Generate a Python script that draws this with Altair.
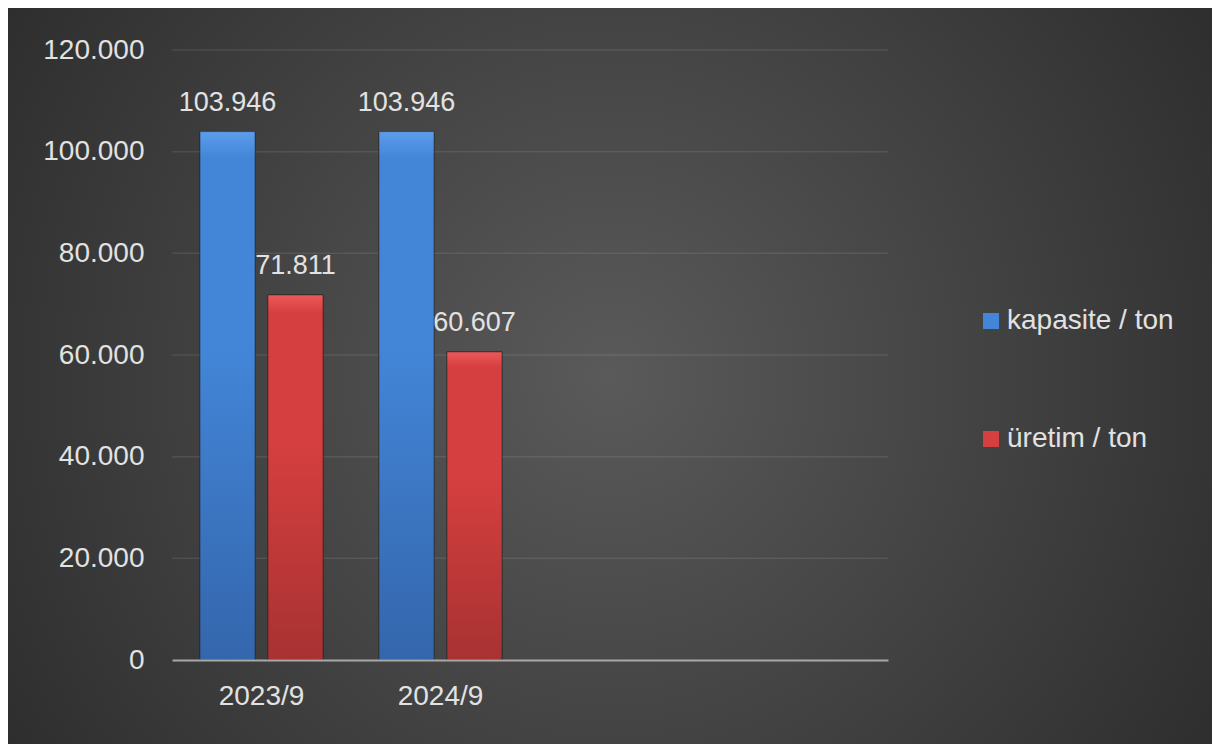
import altair as alt
import pandas as pd

categories = ["2023/9", "2024/9", " ", "  "]
series = ["kapasite / ton", "üretim / ton"]
kapasite = [103946, 103946]
uretim = [71811, 60607]
colors = ["#4386D8", "#D63F3F"]
y_ticks = [0, 20000, 40000, 60000, 80000, 100000, 120000]

rows = []
for i, cat in enumerate(categories[:2]):
    rows.append({"cat": cat, "series": series[0], "value": kapasite[i]})
    rows.append({"cat": cat, "series": series[1], "value": uretim[i]})
df = pd.DataFrame(rows)
ticks_df = pd.DataFrame({"value": y_ticks[1:]})

W, H = 716, 610
PL, PT, PR, PB = 164, 42, 324, 84
FONT = "Liberation Sans"
TXT = "#E2E2E2"

x_enc = alt.X("cat:N", scale=alt.Scale(domain=categories, paddingInner=0.313, paddingOuter=0.1565),
              sort=categories,
              axis=alt.Axis(title=None, labelAngle=0, labelFontSize=28, labelColor=TXT,
                            labelFont=FONT, labelPadding=22, ticks=False, domainColor="#A8A8A8",
                            domainWidth=2, grid=False, zindex=1))
xoff = alt.XOffset("series:N", scale=alt.Scale(domain=series, paddingInner=0.19, paddingOuter=0))
y_enc = alt.Y("value:Q", scale=alt.Scale(domain=[0, 120000], nice=False),
              axis=alt.Axis(title=None, values=y_ticks, labelFontSize=28, labelColor=TXT,
                            labelFont=FONT, labelPadding=28, ticks=False, domain=False,
                            grid=False, zindex=1,
                            labelExpr="replace(format(datum.value, ','), ',', '.')"))

bg = alt.Chart(pd.DataFrame({"a": [0]})).mark_rect(
    clip=False,
    fill=alt.Gradient(gradient="radial", x1=0.5, y1=0.5, r1=0, x2=0.5, y2=0.5, r2=0.72,
                      stops=[alt.GradientStop(color="#5A5A5A", offset=0),
                             alt.GradientStop(color="#242424", offset=1)])
).encode(x=alt.value(-PL), x2=alt.value(W + PR), y=alt.value(-PT), y2=alt.value(H + PB))

grid = alt.Chart(ticks_df).mark_rule(color="#FFFFFF", opacity=0.09, strokeWidth=1.5).encode(
    y=y_enc
)

bars = alt.Chart(df).mark_bar(stroke="#1E1E1E", strokeWidth=0.8, strokeOpacity=0.6).encode(
    x=x_enc, xOffset=xoff, y=y_enc,
    color=alt.Color("series:N", scale=alt.Scale(domain=series, range=colors),
                    legend=alt.Legend(title=None, orient="none", legendX=805, legendY=257,
                                      labelFontSize=28, labelColor=TXT, labelFont=FONT,
                                      labelLimit=400,
                                      symbolType="square", symbolSize=256, symbolStrokeWidth=0,
                                      rowPadding=90, labelOffset=2))
)

grad_layers = []
for s, top, mid, bot in [(series[0], "#5C9DEB", "#4386D8", "#3466AC"),
                          (series[1], "#EC5858", "#D63F3F", "#A83232")]:
    grad_layers.append(
        alt.Chart(df).transform_filter(alt.datum.series == s).mark_bar(
            stroke="#1E1E1E", strokeWidth=0.8, strokeOpacity=0.6,
            fill=alt.Gradient(gradient="linear", x1=0, y1=0, x2=0, y2=1,
                              stops=[alt.GradientStop(color=top, offset=0),
                                     alt.GradientStop(color=mid, offset=0.05),
                                     alt.GradientStop(color=mid, offset=0.4),
                                     alt.GradientStop(color=bot, offset=1)])
        ).encode(x=x_enc, xOffset=xoff, y=y_enc)
    )

labels = alt.Chart(df).mark_text(baseline="bottom", dy=-15, fontSize=27, color=TXT,
                                 font=FONT).encode(
    x=x_enc, xOffset=xoff, y=y_enc,
    text=alt.Text("label:N")
).transform_calculate(label="replace(format(datum.value, ','), ',', '.')")

chart = alt.layer(bg, grid, bars, *grad_layers, labels).properties(
    width=W, height=H,
    background="#272727",
    padding={"left": PL, "top": PT, "right": PR, "bottom": PB},
    autosize=alt.AutoSizeParams(type="none"),
).configure_view(stroke=None)

chart.save("out.html", embed_options={"renderer": "svg", "actions": False})
